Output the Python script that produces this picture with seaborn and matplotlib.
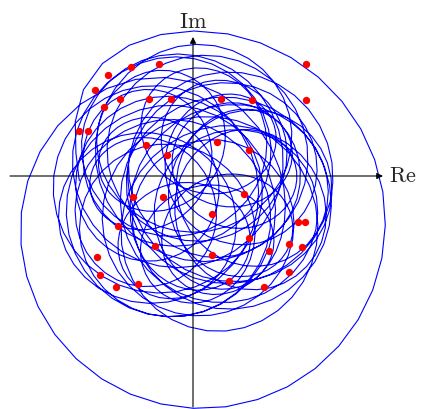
import numpy as np
import pandas as pd
import seaborn as sns
import matplotlib.pyplot as plt

sns.set_theme(style="white")
plt.rcParams["mathtext.fontset"] = "cm"

# Path in the complex plane built from rotating phasors plus a start-up swing that dies away
amp_steady = [0.80, 0.27, 0.42, 0.10]          # long-run phasor lengths
amp_transient = [1.04, -0.20, -0.09, -0.10]    # extra length during the start-up swing
rate = [-1.0, -1.23, 0.07, 0.31]               # angular speed of each phasor
start_angle_deg = [160.0, 160.0, -100.0, 40.0]
centre = [0.02, -0.12]
swing_on, swing_on_width = 0.3, 0.2
swing_off, swing_off_width = 7.5, 0.5
revolutions = 34
samples_per_rev = 36

# Marked points (Re, Im)
pts_re = [1.13, 1.13, -0.34, -0.62, -0.85, -0.98, -0.73, -0.44, -0.22, 0.28,
          0.59, -0.89, -1.14, -1.05, -0.47, 0.24, 0.56, -0.26, -0.60, -0.30,
          0.51, 0.19, -0.75, 1.05, 1.12, 0.56, -0.38, 0.96, 1.09, 0.76,
          0.19, -0.96, 0.96, -0.93, 0.36, -0.55, -0.77, 0.71]
pts_im = [1.12, 0.76, 1.12, 1.09, 1.01, 0.86, 0.77, 0.77, 0.77, 0.77,
          0.76, 0.69, 0.45, 0.45, 0.31, 0.34, 0.26, 0.21, -0.21, -0.21,
          -0.18, -0.38, -0.50, -0.46, -0.46, -0.62, -0.70, -0.68, -0.71, -0.75,
          -0.79, -0.81, -0.96, -0.99, -1.05, -1.08, -1.11, -1.11]

# Axis extents and view window
re_axis = [-1.83, 1.90]
im_axis = [-2.31, 1.39]
view_re = [-1.93, 2.29]
view_im = [-2.33, 1.76]

t = np.linspace(0, 2 * np.pi * revolutions, revolutions * samples_per_rev + 1)
swing = (1.0 / (1.0 + np.exp(-(t - swing_on) / swing_on_width))
         / (1.0 + np.exp((t - swing_off) / swing_off_width)))
z = np.full(t.shape, centre[0] + 1j * centre[1], dtype=complex)
for a0, a1, w, ang in zip(amp_steady, amp_transient, rate, start_angle_deg):
    z = z + (a0 + a1 * swing) * np.exp(1j * (w * t + np.deg2rad(ang)))

path = pd.DataFrame({"Re": z.real, "Im": z.imag})
marks = pd.DataFrame({"Re": pts_re, "Im": pts_im})

fig = plt.figure(figsize=(4.22, 4.09), dpi=100)
ax = fig.add_axes([0, 0, 1, 1])

sns.lineplot(data=path, x="Re", y="Im", sort=False, estimator=None,
             color="#0000ff", lw=0.8, ax=ax, zorder=2)

arrow = dict(arrowstyle="-|>", color="black", lw=0.8,
             mutation_scale=9, shrinkA=0, shrinkB=0)
ax.annotate("", xy=(re_axis[1], 0), xytext=(re_axis[0], 0), arrowprops=arrow, zorder=3)
ax.annotate("", xy=(0, im_axis[1]), xytext=(0, im_axis[0]), arrowprops=arrow, zorder=3)

sns.scatterplot(data=marks, x="Re", y="Im", color="#ff0000", s=28,
                linewidth=0, ax=ax, zorder=4)

ax.text(re_axis[1] + 0.06, 0, r"$\mathrm{Re}$", fontsize=16, ha="left", va="center")
ax.text(0, im_axis[1] + 0.05, r"$\mathrm{Im}$", fontsize=16, ha="center", va="bottom")

ax.set_xlim(view_re)
ax.set_ylim(view_im)
ax.set_axis_off()

fig.savefig("out.png", dpi=100)
